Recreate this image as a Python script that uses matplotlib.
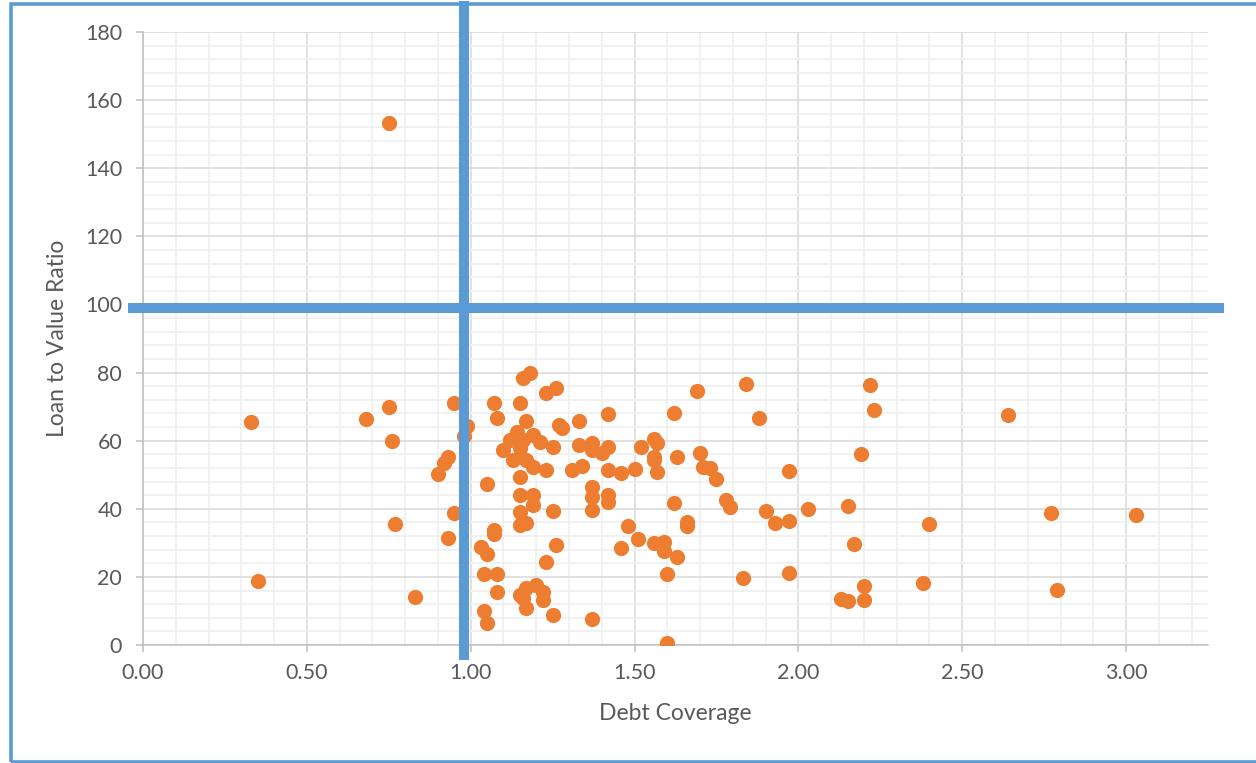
import numpy as np
import matplotlib.pyplot as plt
from matplotlib.patches import Rectangle
from matplotlib.ticker import MultipleLocator, FormatStrFormatter

# debt coverage ratio and loan-to-value for each loan in the portfolio
debt_coverage = [
    0.33, 0.35, 0.68, 0.75, 0.75, 0.76, 0.77, 0.83, 0.90, 0.92,
    0.93, 0.93, 0.95, 0.95, 0.98, 0.99, 1.03, 1.04, 1.04, 1.05,
    1.05, 1.05, 1.07, 1.07, 1.07, 1.08, 1.08, 1.08, 1.10, 1.12,
    1.13, 1.14, 1.15, 1.15, 1.15, 1.15, 1.15, 1.15, 1.15, 1.16,
    1.16, 1.16, 1.17, 1.17, 1.17, 1.17, 1.17, 1.18, 1.19, 1.19,
    1.19, 1.19, 1.20, 1.21, 1.22, 1.22, 1.23, 1.23, 1.23, 1.25,
    1.25, 1.25, 1.26, 1.26, 1.27, 1.28, 1.31, 1.33, 1.33, 1.34,
    1.37, 1.37, 1.37, 1.37, 1.37, 1.37, 1.40, 1.42, 1.42, 1.42,
    1.42, 1.42, 1.46, 1.46, 1.48, 1.50, 1.51, 1.52, 1.56, 1.57,
    1.56, 1.56, 1.57, 1.56, 1.59, 1.59, 1.60, 1.60, 1.62, 1.62,
    1.63, 1.63, 1.66, 1.66, 1.69, 1.70, 1.71, 1.73, 1.75, 1.78,
    1.79, 1.83, 1.84, 1.88, 1.90, 1.93, 1.97, 1.97, 1.97, 2.03,
    2.13, 2.15, 2.15, 2.17, 2.19, 2.20, 2.20, 2.22, 2.23, 2.38,
    2.40, 2.64, 2.77, 2.79, 3.03,
]
loan_to_value = [
    65.6, 18.8, 66.3, 153.3, 70.0, 60.0, 35.6, 14.2, 50.2, 53.4,
    55.3, 31.3, 71.0, 38.7, 61.4, 64.4, 28.9, 20.9, 10.1, 26.7,
    6.4, 47.3, 71.0, 33.8, 32.5, 66.6, 20.9, 15.7, 57.3, 60.2,
    54.3, 62.6, 71.0, 57.8, 49.3, 44.1, 39.1, 35.2, 14.7, 13.7,
    78.3, 60.2, 65.9, 54.3, 35.7, 16.6, 10.8, 80.0, 61.7, 52.2,
    44.1, 41.1, 17.6, 59.7, 15.7, 13.2, 73.9, 51.4, 24.5, 58.1,
    39.4, 8.8, 75.4, 29.4, 64.6, 63.8, 51.4, 65.8, 58.7, 52.6,
    59.2, 57.3, 46.5, 43.6, 39.6, 7.5, 56.3, 67.8, 58.1, 51.4,
    44.1, 42.1, 50.4, 28.4, 34.9, 51.7, 31.0, 58.1, 60.4, 59.4,
    55.3, 54.3, 50.9, 30.0, 30.3, 27.7, 20.9, 0.7, 68.0, 41.6,
    55.3, 25.8, 36.2, 34.8, 74.7, 56.3, 52.4, 51.9, 48.7, 42.6,
    40.6, 19.6, 76.7, 66.6, 39.4, 35.9, 51.1, 36.5, 21.1, 39.8,
    13.4, 13.0, 40.8, 29.6, 56.1, 17.3, 13.2, 76.4, 69.0, 18.3,
    35.5, 67.5, 38.9, 16.2, 38.2,
]

# threshold lines: minimum coverage and maximum LTV
dscr_limit = 0.98
ltv_limit = 99

orange = '#ED7D31'
blue = '#5B9BD5'
text_grey = '#595959'

plt.rcParams['font.family'] = ['Lato', 'DejaVu Sans']

fig = plt.figure(figsize=(12.56, 7.63), dpi=100)
ax = fig.add_axes([143 / 1256, 1 - 645 / 763, 1065 / 1256, 613 / 763])

ax.scatter(debt_coverage, loan_to_value, s=120, color=orange, zorder=3,
           linewidths=0)

ax.set_xlim(0, 3.25)
ax.set_ylim(0, 180)
ax.xaxis.set_major_locator(MultipleLocator(0.5))
ax.xaxis.set_minor_locator(MultipleLocator(0.1))
ax.yaxis.set_major_locator(MultipleLocator(20))
ax.yaxis.set_minor_locator(MultipleLocator(4))
ax.xaxis.set_major_formatter(FormatStrFormatter('%.2f'))

ax.grid(which='major', color='#D9D9D9', linewidth=1.1, zorder=0)
ax.grid(which='minor', color='#EFEFEF', linewidth=1.2, zorder=0)
ax.set_axisbelow(True)

for side in ['top', 'right']:
    ax.spines[side].set_visible(False)
for side in ['left', 'bottom']:
    ax.spines[side].set_color('#BFBFBF')
    ax.spines[side].set_linewidth(1.1)

ax.tick_params(which='major', direction='out', length=5, width=1.1,
               color='#BFBFBF', labelcolor=text_grey, labelsize=15.5)
ax.tick_params(axis='x', which='major', pad=8)
ax.tick_params(axis='y', which='major', pad=10)
ax.tick_params(which='minor', length=0)

ax.set_xlabel('Debt Coverage', fontsize=16.5, color=text_grey, labelpad=14)
ax.set_ylabel('Loan to Value Ratio', fontsize=16.5, color=text_grey, labelpad=12)

# limit lines drawn over the points, running past the plot area
ax.plot([dscr_limit, dscr_limit], [-4.5, 189], color=blue, linewidth=7.2,
        solid_capstyle='butt', clip_on=False, zorder=5)
ax.plot([-0.046, 3.30], [ltv_limit, ltv_limit], color=blue, linewidth=7.2,
        solid_capstyle='butt', clip_on=False, zorder=5)

# outer chart border
fig.patches.append(Rectangle((11 / 1256, 1.5 / 763), 1.2, 758 / 763,
                             transform=fig.transFigure, fill=False,
                             edgecolor=blue, linewidth=2.6))

fig.savefig('out.png', dpi=100)
